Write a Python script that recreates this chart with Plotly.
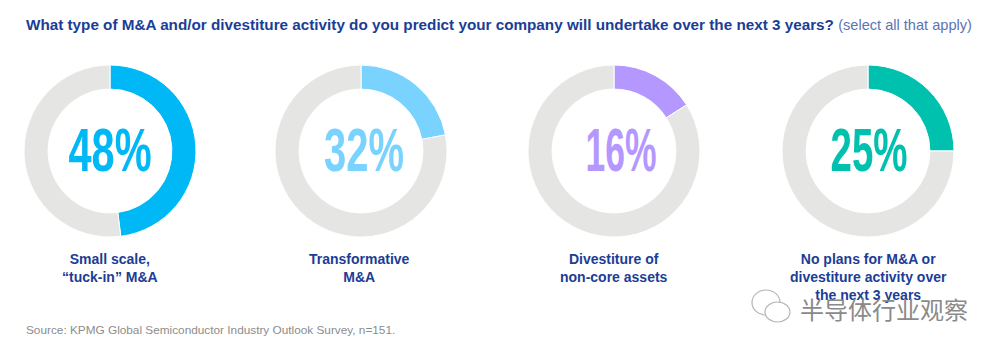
import plotly.graph_objects as go

categories = ["Small scale,<br>“tuck-in” M&A", "Transformative<br>M&A", "Divestiture of<br>non-core assets",
              "No plans for M&A or<br>divestiture activity over<br>the next 3 years"]
value_labels = ["48%", "32%", "16%", "25%"]
# arc share as drawn in the picture (the second arc is drawn shorter than its label)
arc_values = [48, 22, 16, 25]
colors = ["#00B8F5", "#7AD2FF", "#B497FF", "#00C0AE"]
rest_color = "#E5E5E3"
title_bold = "What type of M&A and/or divestiture activity do you predict your company will undertake over the next 3 years?"
title_light = "(select all that apply)"
source = "Source: KPMG Global Semiconductor Industry Outlook Survey, n=151."
watermark = "半导体行业观察"
centers_x = [110, 361, 614, 868]
label_x = [110, 359, 614, 868]
value_x = [110, 364, 621, 869]
value_widths = [83, 80, 71, 77]
center_y = 151
radius = 86
W, H = 992, 344  # page body adds an 8px margin
NAVY = "#1B3D96"


def px(x):
    return (x - 8) / W


def py(y):
    return 1 - (y - 8) / H


fig = go.Figure()
for cat, lab, v, c, cx, lx, vx in zip(categories, value_labels, arc_values, colors, centers_x, label_x, value_x):
    fig.add_trace(go.Pie(
        values=[v, 100 - v], labels=[cat.replace("<br>", " "), "Other"],
        hole=0.72, sort=False, direction="clockwise", rotation=0,
        marker=dict(colors=[c, rest_color], line=dict(color="white", width=1)),
        textinfo="none", showlegend=False,
        domain=dict(x=[px(cx - radius), px(cx + radius)],
                    y=[py(center_y + radius), py(center_y - radius)]),
    ))
    fig.add_annotation(x=px(vx), y=py(center_y - 2), xref="paper", yref="paper", text=lab,
                       showarrow=False, xanchor="center", yanchor="middle",
                       font=dict(family="Liberation Sans", size=62, color=c, weight="bold"))
    fig.add_annotation(x=px(lx), y=py(249), xref="paper", yref="paper", text=f"<b>{cat}</b>".replace("<br>", "</b><br><b>"),
                       showarrow=False, xanchor="center", yanchor="top", align="center",
                       font=dict(family="Liberation Sans", size=14, color=NAVY))

fig.add_annotation(x=px(24), y=py(25), xref="paper", yref="paper", showarrow=False,
                   xanchor="left", yanchor="middle",
                   text=f"<b>{title_bold}</b> <span style='color:#5B74B4;font-size:14.6px'>{title_light}</span>",
                   font=dict(family="Liberation Sans", size=15.25, color=NAVY))
fig.add_annotation(x=px(24), y=py(330), xref="paper", yref="paper", showarrow=False,
                   xanchor="left", yanchor="middle", text=source,
                   font=dict(family="Liberation Sans", size=11.8, color="#8C8C8C"))
fig.add_annotation(x=px(798), y=py(308), xref="paper", yref="paper", showarrow=False,
                   xanchor="left", yanchor="middle", text=watermark,
                   font=dict(family="Noto Sans CJK SC", size=24, color="#8A8A8A"))
# WeChat-style watermark icon
for x0, y0, x1, y1 in [(752, 290, 780, 315), (765, 302, 790, 322)]:
    fig.add_shape(type="circle", xref="paper", yref="paper",
                  x0=px(x0), x1=px(x1), y0=py(y0), y1=py(y1),
                  line=dict(color="#B5B5B5", width=1.2), fillcolor="white")

fig.update_layout(width=W, height=H, margin=dict(l=0, r=0, t=0, b=0),
                  paper_bgcolor="white", plot_bgcolor="white")

widths = dict(zip(value_labels, value_widths))
squeeze = """
var w = %s;
document.querySelectorAll('.annotation-text').forEach(function (t) {
  var s = t.textContent;
  if (w[s]) { t.setAttribute('textLength', w[s]); t.setAttribute('lengthAdjust', 'spacingAndGlyphs'); }
});
""" % str(widths)
fig.write_html("out.html", post_script=squeeze)
